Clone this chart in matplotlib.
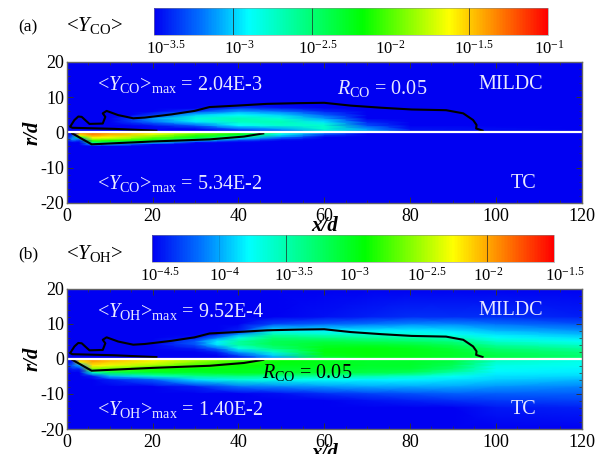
import numpy as np
import matplotlib
matplotlib.use("Agg")
import matplotlib.pyplot as plt
from matplotlib.colors import LinearSegmentedColormap, Normalize
from matplotlib.cm import ScalarMappable
from matplotlib.ticker import MultipleLocator
from matplotlib.transforms import ScaledTranslation

plt.rcParams['font.family'] = ['Liberation Serif', 'DejaVu Serif']
plt.rcParams['mathtext.fontset'] = 'custom'
plt.rcParams['mathtext.rm'] = 'Liberation Serif'
plt.rcParams['mathtext.it'] = 'Liberation Serif:italic'
plt.rcParams['mathtext.bf'] = 'Liberation Serif:bold'
plt.rcParams['axes.unicode_minus'] = False

W, H = 598, 454

# stoichiometric-like contour (same in both panels)
top_line_x = [20.9, 11, 1.3, 0.8, 1.8, 2.7, 3.5, 5.3, 8.4, 9, 8.4, 9.3, 12, 15.5, 18.2, 24.4, 29.8, 33.3,
              39.6, 46.7, 53.8, 60, 66.2, 73.3, 80.4, 88.4, 92.4, 94.7, 95.5, 95.4, 96.9]
top_line_r = [0.47, 1.0, 1.3, 1.6, 3.5, 4.5, 4.4, 2.4, 2.5, 4.4, 5.4, 6.1, 4.9, 4.0, 4.2, 5.1, 6.1, 7.2,
              7.6, 8.1, 8.3, 8.4, 7.6, 7.0, 6.5, 6.3, 5.4, 3.5, 2.1, 1.1, 0.5]
bot_line_x = [1.3, 5.8, 20, 33.3, 41.3, 45.8]
bot_line_r = [-0.3, -3.4, -2.6, -2.0, -1.2, -0.3]

# <Y_CO> log10 values, read by eye
co_top_x = [0, 10, 15, 20, 30, 40, 50, 60, 70, 80, 120]
co_top_r = [0, 1, 2, 3, 4, 5, 6, 7, 8, 20]
co_top = [
    [-3.5, -3.5, -3.5, -3.5, -3.5, -3.5, -3.3, -2.95, -3.1, -3.45, -3.5],
    [-3.5, -3.5, -3.5, -3.5, -3.5, -3.25, -3.1, -2.75, -3.1, -3.45, -3.5],
    [-3.5, -3.5, -3.5, -3.45, -3.25, -2.9, -2.75, -2.75, -3.3, -3.5, -3.5],
    [-3.5, -3.5, -3.35, -3.2, -2.95, -2.72, -2.68, -2.95, -3.4, -3.5, -3.5],
    [-3.5, -3.5, -3.35, -3.1, -2.8, -2.68, -2.8, -3.1, -3.5, -3.5, -3.5],
    [-3.5, -3.5, -3.5, -3.35, -3.0, -2.9, -3.0, -3.25, -3.5, -3.5, -3.5],
    [-3.5, -3.5, -3.5, -3.5, -3.35, -3.1, -3.2, -3.4, -3.5, -3.5, -3.5],
    [-3.5, -3.5, -3.5, -3.5, -3.5, -3.35, -3.45, -3.5, -3.5, -3.5, -3.5],
    [-3.5, -3.5, -3.5, -3.5, -3.5, -3.5, -3.5, -3.5, -3.5, -3.5, -3.5],
    [-3.5, -3.5, -3.5, -3.5, -3.5, -3.5, -3.5, -3.5, -3.5, -3.5, -3.5],
]
co_bot_x = [0, 1.3, 3, 6, 10, 20, 30, 40, 50, 60, 70, 120]
co_bot_r = [0, -0.5, -1, -1.5, -2, -2.5, -3, -3.5, -4, -20]
co_bot = [
    [-3.5, -3.5, -1.35, -1.3, -1.4, -1.6, -1.9, -2.2, -2.8, -3.15, -3.5, -3.5],
    [-3.5, -3.5, -1.45, -1.3, -1.4, -1.65, -1.95, -2.2, -2.85, -3.25, -3.5, -3.5],
    [-3.5, -3.3, -1.7, -1.4, -1.5, -1.8, -2.1, -2.4, -3.0, -3.4, -3.5, -3.5],
    [-3.5, -3.2, -2.3, -1.6, -1.65, -1.95, -2.25, -2.7, -3.2, -3.5, -3.5, -3.5],
    [-3.4, -3.1, -3.2, -1.8, -1.85, -2.1, -2.55, -3.1, -3.4, -3.5, -3.5, -3.5],
    [-3.5, -3.3, -3.4, -2.1, -2.15, -2.35, -3.1, -3.4, -3.5, -3.5, -3.5, -3.5],
    [-3.5, -3.5, -3.5, -2.5, -2.55, -3.0, -3.5, -3.5, -3.5, -3.5, -3.5, -3.5],
    [-3.5, -3.5, -3.5, -3.1, -3.1, -3.5, -3.5, -3.5, -3.5, -3.5, -3.5, -3.5],
    [-3.5, -3.5, -3.5, -3.5, -3.5, -3.5, -3.5, -3.5, -3.5, -3.5, -3.5, -3.5],
    [-3.5, -3.5, -3.5, -3.5, -3.5, -3.5, -3.5, -3.5, -3.5, -3.5, -3.5, -3.5],
]

# <Y_OH> log10 values
oh_top_x = [0, 20, 30, 35, 40, 48, 60, 70, 80, 90, 100, 120]
oh_top_r = [0, 1, 2, 3, 4, 5, 6, 7, 8, 10, 12, 20]
oh_top = [
    [-4.5, -4.5, -4.5, -4.5, -4.45, -4.1, -3.15, -3.0, -3.0, -3.05, -3.15, -3.3],
    [-4.5, -4.5, -4.5, -4.5, -4.3, -3.9, -3.0, -2.95, -2.98, -3.05, -3.15, -3.3],
    [-4.5, -4.5, -4.5, -4.4, -4.0, -3.6, -2.95, -2.93, -2.98, -3.05, -3.2, -3.35],
    [-4.5, -4.5, -4.4, -4.15, -3.7, -3.35, -2.98, -2.95, -3.0, -3.1, -3.3, -3.45],
    [-4.5, -4.5, -4.25, -3.85, -3.45, -3.2, -3.05, -3.05, -3.1, -3.2, -3.45, -3.6],
    [-4.5, -4.5, -4.2, -3.8, -3.45, -3.2, -3.15, -3.2, -3.25, -3.35, -3.6, -3.75],
    [-4.5, -4.5, -4.45, -4.1, -3.7, -3.3, -3.35, -3.4, -3.45, -3.55, -3.75, -3.85],
    [-4.5, -4.5, -4.5, -4.4, -4.05, -3.5, -3.6, -3.6, -3.65, -3.75, -3.85, -3.95],
    [-4.5, -4.5, -4.5, -4.5, -4.4, -3.8, -3.8, -3.8, -3.8, -3.85, -3.95, -4.05],
    [-4.5, -4.5, -4.5, -4.5, -4.5, -4.3, -4.2, -4.15, -4.1, -4.1, -4.15, -4.25],
    [-4.5, -4.5, -4.5, -4.5, -4.5, -4.5, -4.45, -4.4, -4.35, -4.35, -4.35, -4.4],
    [-4.5, -4.5, -4.5, -4.5, -4.5, -4.5, -4.5, -4.5, -4.5, -4.5, -4.5, -4.5],
]
oh_bot_x = [0, 1.3, 3, 6, 10, 20, 30, 40, 50, 60, 70, 80, 90, 100, 120]
oh_bot_r = [0, -1, -2, -3, -4, -5, -6, -8, -10, -12, -14, -20]
oh_bot = [
    [-4.5, -4.5, -1.95, -1.9, -2.0, -2.2, -2.45, -2.7, -2.9, -3.0, -3.05, -3.05, -3.15, -3.55, -3.7],
    [-4.5, -4.4, -2.3, -2.0, -2.1, -2.3, -2.55, -2.8, -2.95, -3.0, -3.05, -3.05, -3.15, -3.6, -3.72],
    [-4.4, -4.2, -4.0, -2.2, -2.3, -2.5, -2.75, -2.9, -3.0, -3.0, -3.05, -3.05, -3.2, -3.7, -3.75],
    [-4.5, -4.4, -4.4, -2.6, -2.7, -2.85, -2.95, -3.0, -3.05, -3.05, -3.1, -3.1, -3.3, -3.75, -3.8],
    [-4.5, -4.5, -4.5, -3.6, -3.2, -3.05, -3.05, -3.0, -3.05, -3.1, -3.15, -3.2, -3.5, -3.8, -3.83],
    [-4.5, -4.5, -4.5, -4.4, -3.95, -3.6, -3.4, -3.35, -3.4, -3.45, -3.5, -3.6, -3.75, -3.85, -3.87],
    [-4.5, -4.5, -4.5, -4.5, -4.4, -4.2, -3.85, -3.65, -3.7, -3.75, -3.8, -3.8, -3.85, -3.9, -3.95],
    [-4.5, -4.5, -4.5, -4.5, -4.5, -4.5, -4.4, -4.15, -4.1, -4.05, -4.0, -4.0, -4.0, -4.05, -4.1],
    [-4.5, -4.5, -4.5, -4.5, -4.5, -4.5, -4.5, -4.5, -4.45, -4.35, -4.3, -4.25, -4.2, -4.2, -4.2],
    [-4.5, -4.5, -4.5, -4.5, -4.5, -4.5, -4.5, -4.5, -4.5, -4.5, -4.45, -4.4, -4.35, -4.32, -4.3],
    [-4.5, -4.5, -4.5, -4.5, -4.5, -4.5, -4.5, -4.5, -4.5, -4.5, -4.5, -4.5, -4.5, -4.42, -4.4],
    [-4.5, -4.5, -4.5, -4.5, -4.5, -4.5, -4.5, -4.5, -4.5, -4.5, -4.5, -4.5, -4.5, -4.5, -4.5],
]

# colorbar ticks (exponents)
co_ticks = [-3.5, -3, -2.5, -2, -1.5, -1]
co_ticklabels = ['-3.5', '-3', '-2.5', '-2', '-1.5', '-1']
oh_ticks = [-4.5, -4, -3.5, -3, -2.5, -2, -1.5]
oh_ticklabels = ['-4.5', '-4', '-3.5', '-3', '-2.5', '-2', '-1.5']

cmap = LinearSegmentedColormap.from_list("tec", [(0, (0, 0, 0.95)), (0.12, (0, 0.45, 1)), (0.24, (0, 1, 1)),
                                                 (0.53, (0, 1, 0)), (0.75, (1, 1, 0)), (1, (1, 0, 0))])


def box(x0, y0, x1, y1):
    # pixel box (y from the top) to figure fractions
    return [x0/W, 1-y1/H, (x1-x0)/W, (y1-y0)/H]


def field_panel(fig, rect, top, bot, norm):
    ax = fig.add_axes(box(*rect))
    for xs, rs, z in (top, bot):
        ax.pcolormesh(xs, rs, np.array(z), cmap=cmap, norm=norm, shading='gouraud', rasterized=True)
    ax.plot(top_line_x, top_line_r, color='k', lw=1.5)
    ax.plot(bot_line_x, bot_line_r, color='k', lw=1.5)
    ax.axhline(0, color='white', lw=1.6)
    ax.set_xlim(0, 120)
    ax.set_ylim(-20, 20)
    ax.xaxis.set_major_locator(MultipleLocator(20))
    ax.xaxis.set_minor_locator(MultipleLocator(5))
    ax.yaxis.set_major_locator(MultipleLocator(10))
    ax.yaxis.set_minor_locator(MultipleLocator(2))
    ax.tick_params(which='major', direction='in', length=4, width=0.7, top=True, right=True,
                   labelsize=13, color='#333333')
    ax.tick_params(axis='x', which='major', pad=3.5)
    ax.tick_params(axis='y', which='major', pad=2)
    ax.tick_params(which='minor', direction='in', length=2, width=0.5, top=True, right=True, color='#333333')
    for s in ax.spines.values():
        s.set_color('#666666')
        s.set_linewidth(1.0)
    ax.set_xlabel('x/d', fontsize=15, style='italic', fontweight='bold', labelpad=-6)
    ax.set_ylabel('r/d', fontsize=15, style='italic', fontweight='bold', labelpad=-2)
    return ax


def bar_panel(fig, rect, norm, ticks, labels, line_alpha, shifts):
    cax = fig.add_axes(box(*rect))
    fig.colorbar(ScalarMappable(norm=norm, cmap=cmap), cax=cax, orientation='horizontal')
    cax.set_xticks(ticks)
    cax.set_xticklabels(['$10^{%s}$' % l for l in labels], fontsize=12)
    cax.tick_params(length=0, pad=3.5)
    for lbl, dx in zip(cax.get_xticklabels(), shifts):
        lbl.set_transform(lbl.get_transform() + ScaledTranslation(dx/100, 0, fig.dpi_scale_trans))
    for t, a in zip(ticks, line_alpha):
        if a > 0:
            cax.axvline(t, color='#222222', lw=0.7, alpha=a)
    cax.spines['outline'].set_linewidth(0.4)
    cax.spines['outline'].set_color('#888888')
    return cax


fig = plt.figure(figsize=(W/100, H/100), dpi=100)

norm_co = Normalize(-3.5, -1)
norm_oh = Normalize(-4.5, -1.5)

ax1 = field_panel(fig, (66.7, 62, 581.7, 202.7), (co_top_x, co_top_r, co_top), (co_bot_x, co_bot_r, co_bot), norm_co)
ax2 = field_panel(fig, (66.7, 288.5, 581.7, 429), (oh_top_x, oh_top_r, oh_top), (oh_bot_x, oh_bot_r, oh_bot), norm_oh)

bar_panel(fig, (154, 8, 548, 35), norm_co, co_ticks, co_ticklabels, [0, 0.8, 0.7, 0, 0.7, 0], [12, 7, 6, 0, 5, 1])
bar_panel(fig, (152, 235, 554, 262), norm_oh, oh_ticks, oh_ticklabels, [0, 0.15, 0.7, 0, 0, 0.7, 0], [8, 6, 8, 1, 7, 1, 11])

tw = dict(color='#e8e8ff', fontsize=14.5, va='center')
ax1.text(7, 13.5, r'<$\mathit{Y}_{\mathrm{CO}}$>$_{\mathrm{max}}$ = 2.04E-3', **tw)
ax1.text(7, -14.5, r'<$\mathit{Y}_{\mathrm{CO}}$>$_{\mathrm{max}}$ = 5.34E-2', **tw)
ax1.text(63, 12.5, r'$\mathit{R}_{\mathrm{CO}}$ = 0.05', **tw)
ax1.text(96, 13.7, 'MILDC', **tw)
ax1.text(103.5, -14.5, 'TC', **tw)

ax2.text(7, 13.5, r'<$\mathit{Y}_{\mathrm{OH}}$>$_{\mathrm{max}}$ = 9.52E-4', **tw)
ax2.text(7, -14.5, r'<$\mathit{Y}_{\mathrm{OH}}$>$_{\mathrm{max}}$ = 1.40E-2', **tw)
ax2.text(45.5, -3.8, r'$\mathit{R}_{\mathrm{CO}}$ = 0.05', color='k', fontsize=14.5, va='center')
ax2.text(96, 13.7, 'MILDC', **tw)
ax2.text(103.5, -14.5, 'TC', **tw)

fig.text(18/W, 1-27/H, '(a)', fontsize=12.5, va='center')
fig.text(18/W, 1-254/H, '(b)', fontsize=12.5, va='center')
fig.text(66/W, 1-26/H, r'<$\mathit{Y}_{\mathrm{CO}}$>', fontsize=15, va='center')
fig.text(66/W, 1-253/H, r'<$\mathit{Y}_{\mathrm{OH}}$>', fontsize=15, va='center')

fig.savefig("out.png", dpi=100)
